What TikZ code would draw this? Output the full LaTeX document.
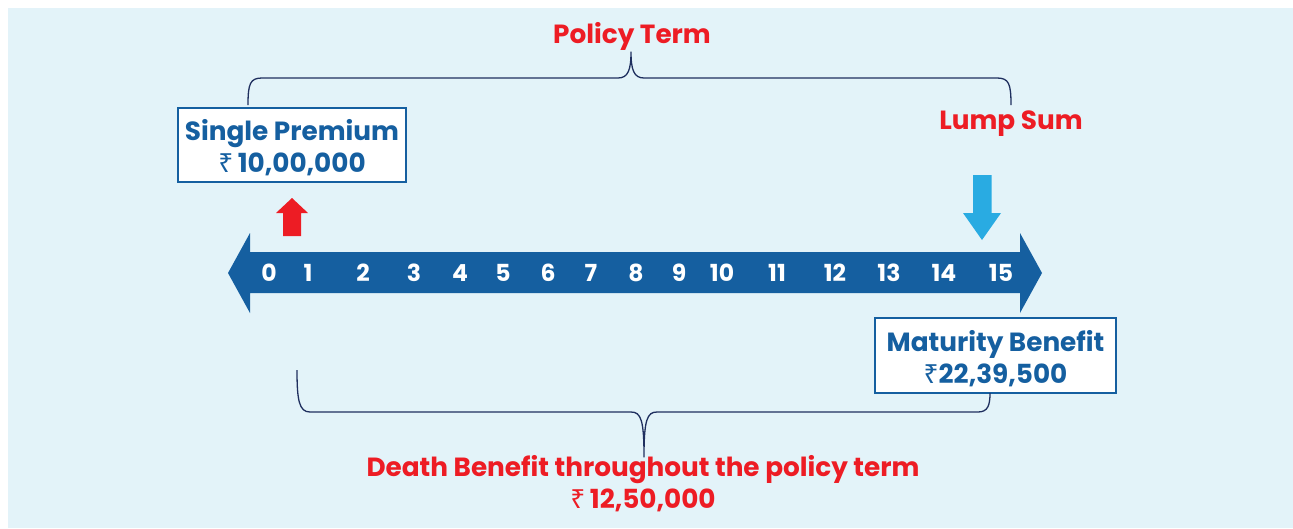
\documentclass[tikz,border=0pt]{standalone}
\usepackage{fontspec}
\setmainfont{Poppins}
\newfontfamily\rupeefont{Noto Sans}
\definecolor{bgc}{HTML}{E3F3F9}
\definecolor{navy}{HTML}{1F2F5F}
\definecolor{tblue}{HTML}{155FA0}
\definecolor{tred}{HTML}{ED1C24}
\definecolor{lblue}{HTML}{29ABE2}
\newcommand{\rupee}{{\rupeefont\mdseries ₹}}
\tikzset{
  brace/.style={draw=navy, line width=1.3pt, line join=round},
  redtxt/.style={text=tred, font=\fontsize{26.3}{32}\selectfont\bfseries, align=center, inner sep=0pt},
  bluebox/.style={draw=tblue, line width=1.3pt, fill=white, minimum width=228pt, minimum height=74pt},
  num/.style={text=white, font=\fontsize{23.5}{26}\selectfont\bfseries, inner sep=0pt}
}
\begin{document}
\begin{tikzpicture}[x=1pt,y=-1pt]
\useasboundingbox (0,0) rectangle (1293,528);
\fill[bgc] (8,8) rectangle (1293,528);
% timeline double arrow
\fill[tblue] (228,273) -- (250,233) -- (250,252) -- (1020,252) -- (1020,233) -- (1042,273) -- (1020,313) -- (1020,293) -- (250,293) -- (250,313) -- cycle;
\foreach \n/\x in {0/269,1/308,2/363,3/414,4/460,5/503,6/548,7/591,8/636,9/679,10/722,11/777,12/835,13/889,14/944,15/1001}{
  \node[num] (n\n) at (\x,273) {\n};
}
% top brace
\coordinate (tl) at (248,105);
\coordinate (tr) at (1011,105);
\coordinate (tt) at (631,52);
\draw[brace] (tl) .. controls (248,84) and (250,78) .. (262,78) -- (618,78) .. controls (628,78) and (631,70) .. (tt) .. controls (631,70) and (634,78) .. (644,78) -- (997,78) .. controls (1009,78) and (1011,84) .. (tr);
\node[redtxt] (pt) at (632,36) {Policy Term};
\node[redtxt] (ls) at (1011,124) {Lump Sum};
% boxes
\node[bluebox] (sp) at (292,145) {};
\node[redtxt, text=tblue] (spt) at (292,148) {Single Premium\\\rupee\,10,00,000};
\node[bluebox, minimum width=241pt, minimum height=75pt] (mb) at (995.5,355.5) {};
\node[redtxt, text=tblue] (mbt) at (995.5,359) {Maturity Benefit\\\rupee22,39,500};
% red up arrow
\fill[tred] (292,198) -- (308,213) -- (301,213) -- (301,236) -- (283,236) -- (283,213) -- (276,213) -- cycle;
% light blue down arrow
\fill[lblue] (982,240) -- (1001,213) -- (991.5,213) -- (991.5,175) -- (973,175) -- (973,213) -- (963,213) -- cycle;
% bottom brace
\coordinate (bl) at (297,370);
\coordinate (br) at (990,393);
\coordinate (bt) at (644,457);
\draw[brace] (bl) .. controls (297,400) and (299,412) .. (310,412) -- (631,412) .. controls (641,412) and (644,420) .. (bt) .. controls (644,420) and (647,412) .. (657,412) -- (978,412) .. controls (988,412) and (990,405) .. (br);
\node[redtxt] (db) at (643,484) {Death Benefit throughout the policy term\\\rupee\,12,50,000};
\end{tikzpicture}
\end{document}
